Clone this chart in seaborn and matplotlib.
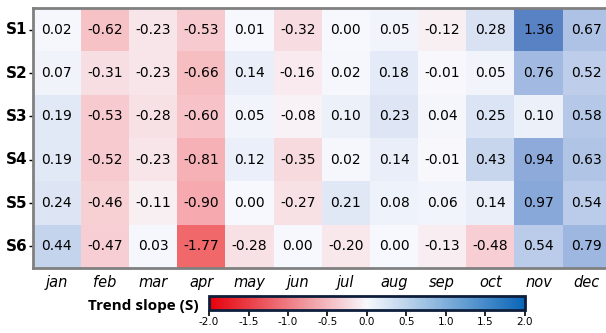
import numpy as np
import pandas as pd
import matplotlib
matplotlib.use("Agg")
import matplotlib.pyplot as plt
import seaborn as sns
from matplotlib.colors import LinearSegmentedColormap, Normalize
from matplotlib.cm import ScalarMappable

months = ["jan", "feb", "mar", "apr", "may", "jun", "jul", "aug", "sep", "oct", "nov", "dec"]
sites = ["S1", "S2", "S3", "S4", "S5", "S6"]
s1 = [0.02, -0.62, -0.23, -0.53, 0.01, -0.32, 0.00, 0.05, -0.12, 0.28, 1.36, 0.67]
s2 = [0.07, -0.31, -0.23, -0.66, 0.14, -0.16, 0.02, 0.18, -0.01, 0.05, 0.76, 0.52]
s3 = [0.19, -0.53, -0.28, -0.60, 0.05, -0.08, 0.10, 0.23, 0.04, 0.25, 0.10, 0.58]
s4 = [0.19, -0.52, -0.23, -0.81, 0.12, -0.35, 0.02, 0.14, -0.01, 0.43, 0.94, 0.63]
s5 = [0.24, -0.46, -0.11, -0.90, 0.00, -0.27, 0.21, 0.08, 0.06, 0.14, 0.97, 0.54]
s6 = [0.44, -0.47, 0.03, -1.77, -0.28, 0.00, -0.20, 0.00, -0.13, -0.48, 0.54, 0.79]
cbar_ticks = [-2.0, -1.5, -1.0, -0.5, 0.0, 0.5, 1.0, 1.5, 2.0]

df = pd.DataFrame([s1, s2, s3, s4, s5, s6], index=sites, columns=months)

def c(r, g, b):
    return (r / 255, g / 255, b / 255)

cell_cmap = LinearSegmentedColormap.from_list(
    "cells", [(0.0, c(240, 88, 90)), (0.25, c(246, 160, 165)), (0.5, c(248, 249, 253)),
              (0.75, c(135, 166, 217)), (1.0, c(10, 70, 160))])
bar_cmap = LinearSegmentedColormap.from_list("bar", ["#e6000a", "#f7f8fd", "#0a66b8"])

fig = plt.figure(figsize=(6.06, 3.33), dpi=100)
ax = fig.add_axes([0.054, 0.195, 0.954, 0.781])
cax = fig.add_axes([0.345, 0.069, 0.521, 0.042])

sns.heatmap(df, ax=ax, cmap=cell_cmap, vmin=-2, vmax=2, annot=True, fmt=".2f",
            annot_kws={"fontsize": 10, "color": "black"}, cbar=False)

for sp in ax.spines.values():
    sp.set_visible(True)
    sp.set_color("#808080")
    sp.set_linewidth(2)

ax.set_xlabel("")
ax.set_ylabel("")
ax.tick_params(axis="y", length=3, width=1, pad=1, left=True, colors="black")
ax.tick_params(axis="x", length=0, pad=5)
for t in ax.get_yticklabels():
    t.set_fontweight("bold")
    t.set_fontsize(11)
    t.set_rotation(0)
for t in ax.get_xticklabels():
    t.set_fontstyle("italic")
    t.set_fontsize(10.5)
    t.set_rotation(0)

sm = ScalarMappable(norm=Normalize(-2, 2), cmap=bar_cmap)
cb = fig.colorbar(sm, cax=cax, orientation="horizontal", ticks=cbar_ticks)
cax.tick_params(axis="x", length=4, width=1.2, pad=1, labelsize=7.5, colors="black")
cb.outline.set_edgecolor("#0d1f3c")
cb.outline.set_linewidth(2)
cax.set_xticklabels([f"{v:.1f}" for v in cbar_ticks], family="Liberation Sans Narrow")
fig.text(0.328, 0.082, "Trend slope (S)", ha="right", va="center", fontsize=11,
         fontweight="bold", family="Open Sans")

fig.savefig("out.png", dpi=100)
